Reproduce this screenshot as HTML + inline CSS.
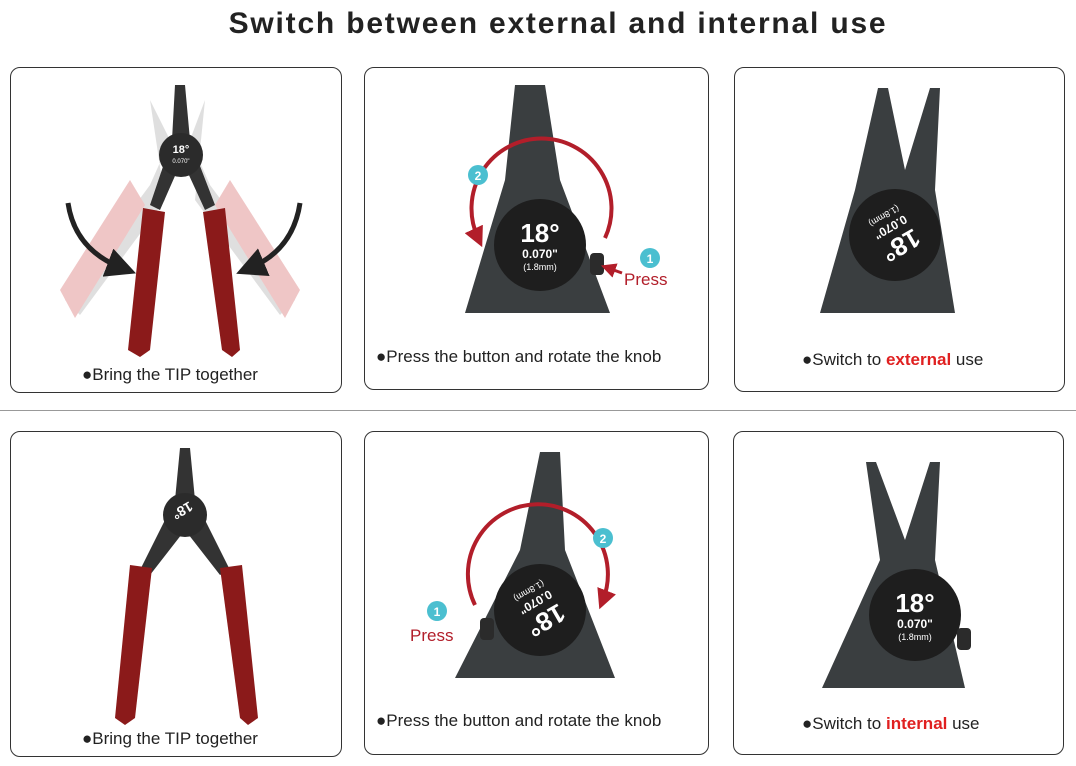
<!DOCTYPE html>
<html><head><meta charset="utf-8"><style>
body{margin:0;width:1076px;height:766px;background:#fff;position:relative;overflow:hidden;font-family:"Liberation Sans",Arial,sans-serif}
.t{position:absolute;left:20px;width:1076px;top:7px;text-align:center;font-weight:900;font-size:30px;letter-spacing:1.8px;color:#222}
.p{position:absolute;border:1px solid #333;border-radius:10px;box-sizing:border-box}
.c{position:absolute;font-size:17px;color:#222;white-space:nowrap}
.r{color:#e02020;font-weight:bold}
svg{position:absolute;left:0;top:0}
</style></head><body>
<div class="t">Switch between external and internal use</div>
<div class="p" style="left:10px;top:67px;width:332px;height:326px"></div>
<div class="p" style="left:364px;top:67px;width:345px;height:323px"></div>
<div class="p" style="left:734px;top:67px;width:331px;height:325px"></div>
<div style="position:absolute;left:0;top:410px;width:1076px;height:1px;background:#999"></div>
<div class="p" style="left:10px;top:431px;width:332px;height:326px"></div>
<div class="p" style="left:364px;top:431px;width:345px;height:324px"></div>
<div class="p" style="left:733px;top:431px;width:331px;height:324px"></div>

<svg width="1076" height="766">
<defs><marker id="ab" markerWidth="6" markerHeight="6" refX="3" refY="3" orient="auto"><path d="M0,0L6,3L0,6z" fill="#222"/></marker>
<marker id="ar" markerWidth="5" markerHeight="5" refX="2.5" refY="2.5" orient="auto"><path d="M0,0L5,2.5L0,5z" fill="#b21e2a"/></marker></defs>
<g opacity="0.3"><path d="M150,100 L170,140 L150,185 L65,300 L80,315 L165,200 Z" fill="#999"/><path d="M205,100 L190,140 L210,185 L295,300 L280,315 L195,200 Z" fill="#999"/>
<path d="M130,180 L60,290 L75,318 L145,205Z" fill="#c44"/><path d="M230,180 L300,290 L285,318 L215,205Z" fill="#c44"/></g>
<path d="M175,85 L185,85 L190,140 L215,205 L205,210 L182,160 L160,210 L150,205 L172,140Z" fill="#333"/>
<circle cx="181" cy="155" r="22" fill="#2b2b2b"/>
<text x="181" y="153" fill="#fff" font-size="11" font-weight="bold" text-anchor="middle">18°</text>
<text x="181" y="163" fill="#fff" font-size="6" text-anchor="middle">0.070"</text>
<path d="M143,208 L165,212 L150,350 L140,357 L128,350 Z" fill="#8b1a1a"/>
<path d="M203,212 L225,208 L240,350 L232,357 L222,350 Z" fill="#8b1a1a"/>
<path d="M68,203 Q75,250 122,268" fill="none" stroke="#222" stroke-width="5" marker-end="url(#ab)"/>
<path d="M300,203 Q293,250 250,268" fill="none" stroke="#222" stroke-width="5" marker-end="url(#ab)"/>
<path d="M515,85 L545,85 L560,180 L610,313 L465,313 L505,180Z" fill="#3a3e40"/>
<circle cx="540" cy="245" r="46" fill="#1e1e1e"/>
<rect x="590" y="253" width="14" height="22" rx="4" fill="#2b2b2b"/>
<text x="540" y="242" fill="#fff" font-size="26" font-weight="bold" text-anchor="middle">18°</text>
<text x="540" y="258" fill="#fff" font-size="12" font-weight="bold" text-anchor="middle">0.070"</text>
<text x="540" y="270" fill="#fff" font-size="9" text-anchor="middle">(1.8mm)</text>
<path d="M605,238 A70,70 0 1 0 478,238" fill="none" stroke="#b21e2a" stroke-width="4" marker-end="url(#ar)"/>
<circle cx="478" cy="175" r="10" fill="#4bbfd0"/><text x="478" y="180" fill="#fff" font-size="12" font-weight="bold" text-anchor="middle">2</text>
<circle cx="650" cy="258" r="10" fill="#4bbfd0"/><text x="650" y="263" fill="#fff" font-size="12" font-weight="bold" text-anchor="middle">1</text>
<text x="624" y="285" fill="#b21e2a" font-size="17">Press</text>
<path d="M622,273 L608,268" stroke="#b21e2a" stroke-width="3" marker-end="url(#ar)"/>
<path d="M878,88 L888,88 L905,170 L930,88 L940,88 L935,190 L955,313 L820,313 L855,190Z" fill="#3a3e40"/>
<circle cx="895" cy="235" r="46" fill="#1e1e1e"/>
<g transform="rotate(150 895 235)"><text x="895" y="232" fill="#fff" font-size="26" font-weight="bold" text-anchor="middle">18°</text>
<text x="895" y="248" fill="#fff" font-size="12" font-weight="bold" text-anchor="middle">0.070"</text><text x="895" y="260" fill="#fff" font-size="9" text-anchor="middle">(1.8mm)</text></g>
<path d="M180,448 L190,448 L195,500 L230,570 L220,575 L185,530 L150,575 L140,570 L175,500Z" fill="#333"/>
<circle cx="185" cy="515" r="22" fill="#2b2b2b"/>
<text x="185" y="525" fill="#fff" font-size="14" font-weight="bold" text-anchor="middle" transform="rotate(150 185 515)">18°</text>
<path d="M130,565 L152,568 L135,718 L125,725 L115,718 Z" fill="#8b1a1a"/>
<path d="M220,568 L242,565 L258,718 L248,725 L240,718 Z" fill="#8b1a1a"/>
<path d="M540,452 L560,452 L565,550 L615,678 L455,678 L520,550Z" fill="#3a3e40"/>
<circle cx="540" cy="610" r="46" fill="#1e1e1e"/>
<rect x="480" y="618" width="14" height="22" rx="4" fill="#2b2b2b"/>
<g transform="rotate(150 540 610)"><text x="540" y="607" fill="#fff" font-size="26" font-weight="bold" text-anchor="middle">18°</text>
<text x="540" y="623" fill="#fff" font-size="12" font-weight="bold" text-anchor="middle">0.070"</text><text x="540" y="635" fill="#fff" font-size="9" text-anchor="middle">(1.8mm)</text></g>
<path d="M475,605 A70,70 0 1 1 603,600" fill="none" stroke="#b21e2a" stroke-width="4" marker-end="url(#ar)"/>
<circle cx="437" cy="611" r="10" fill="#4bbfd0"/><text x="437" y="616" fill="#fff" font-size="12" font-weight="bold" text-anchor="middle">1</text>
<circle cx="603" cy="538" r="10" fill="#4bbfd0"/><text x="603" y="543" fill="#fff" font-size="12" font-weight="bold" text-anchor="middle">2</text>
<text x="410" y="641" fill="#b21e2a" font-size="17">Press</text>
<path d="M866,462 L876,462 L905,540 L930,462 L940,462 L935,560 L965,688 L822,688 L880,560Z" fill="#3a3e40"/>
<circle cx="915" cy="615" r="46" fill="#1e1e1e"/>
<rect x="957" y="628" width="14" height="22" rx="4" fill="#2b2b2b"/>
<text x="915" y="612" fill="#fff" font-size="26" font-weight="bold" text-anchor="middle">18°</text>
<text x="915" y="628" fill="#fff" font-size="12" font-weight="bold" text-anchor="middle">0.070"</text>
<text x="915" y="640" fill="#fff" font-size="9" text-anchor="middle">(1.8mm)</text>
</svg>

<div class="c" style="left:82px;top:365px">●Bring the TIP together</div>
<div class="c" style="left:376px;top:347px">●Press the button and rotate the knob</div>
<div class="c" style="left:802px;top:350px">●Switch to <span class="r">external</span> use</div>
<div class="c" style="left:82px;top:729px">●Bring the TIP together</div>
<div class="c" style="left:376px;top:711px">●Press the button and rotate the knob</div>
<div class="c" style="left:802px;top:714px">●Switch to <span class="r">internal</span> use</div>
</body></html>
